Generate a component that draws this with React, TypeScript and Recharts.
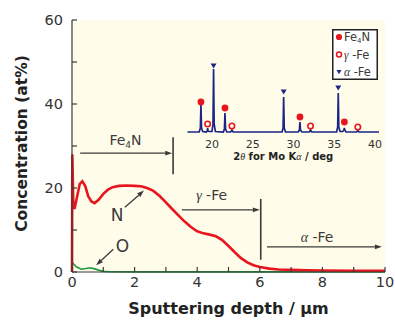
import React from 'react';
import {
  LineChart, Line, XAxis, YAxis, CartesianGrid, ReferenceLine, ReferenceDot,
  ComposedChart, Scatter, Legend,
} from 'recharts';

// depth profile: depth in µm, concentration in at%
const nDepth = [0, 0.01, 0.04, 0.08, 0.15, 0.25, 0.33, 0.42, 0.52, 0.62, 0.72, 0.85, 1.0, 1.15, 1.3, 1.5, 1.75, 2.0, 2.2, 2.4, 2.6, 2.8, 3.0, 3.2, 3.4, 3.6, 3.8, 4.0, 4.2, 4.4, 4.6, 4.8, 5.0, 5.2, 5.4, 5.6, 5.8, 6.0, 6.3, 6.6, 7.0, 7.5, 8.0, 9.0, 10.0];
const nConc = [0, 28, 17, 15, 17.5, 21, 21.6, 20.5, 18, 16.8, 16.4, 17.2, 18.6, 19.6, 20.2, 20.5, 20.6, 20.5, 20.4, 20.0, 19.3, 18.1, 16.6, 15.0, 13.5, 12.0, 10.7, 9.7, 9.2, 8.9, 8.5, 7.6, 6.2, 4.7, 3.3, 2.3, 1.6, 1.2, 0.8, 0.6, 0.5, 0.4, 0.35, 0.3, 0.3];
const oDepth = [0, 0.05, 0.15, 0.3, 0.45, 0.57, 0.7, 0.85, 1.0, 1.2, 2.0, 4.0, 10.0];
const oConc = [2.4, 1.9, 1.2, 0.65, 0.85, 1.0, 0.8, 0.45, 0.15, 0.05, 0.03, 0.03, 0.03];

const depthTicks = [0, 1, 2, 3, 4, 5, 6, 7, 8, 9, 10];
const concTicks = [0, 10, 20, 30, 40, 50, 60];

// XRD inset: 2θ in deg, intensity in arbitrary units
const xrdAngle = [17, 18.43, 18.58, 18.65, 18.72, 18.87, 19.3, 19.42, 19.47, 19.52, 19.65, 20.0, 20.13, 20.2, 20.27, 20.42, 21.4, 21.53, 21.6, 21.67, 21.82, 22.3, 22.45, 22.6, 28.6, 28.73, 28.8, 28.87, 29.02, 30.6, 30.73, 30.8, 30.87, 31.02, 31.95, 32.1, 32.25, 35.3, 35.43, 35.5, 35.57, 35.72, 36.05, 36.2, 36.25, 36.3, 36.45, 37.75, 37.9, 38.05, 40.5];
const xrdCount = [1, 1, 5, 28, 5, 1.5, 1, 2, 5, 2, 1.5, 1.5, 9, 64, 9, 1.5, 1, 4, 20, 4, 1, 1, 3, 1, 1, 5, 36, 5, 1, 1, 3, 11, 3, 1, 1, 3, 1, 1, 6, 40, 6, 1.5, 1.5, 3, 5, 3, 1, 1, 2.5, 1, 1];
const angleTicks = [20, 25, 30, 35, 40];

const fe4nAngle = [18.65, 21.6, 30.8, 36.25];
const fe4nMark = [31, 25, 16, 11];
const gammaAngle = [19.47, 22.45, 32.1, 37.9];
const gammaMark = [9, 7, 7, 6];
const alphaAngle = [20.2, 28.8, 35.5];
const alphaMark = [67, 41, 45];

const phases = ['Fe4N', 'gamma', 'alpha'];

const zip = (xs: number[], ys: number[]) => xs.map((x, i) => ({ x, y: ys[i] }));

const INK = '#3a3a3a';
const RED = '#e8141e';
const GREEN = '#1f9a3c';
const NAVY = '#1c2585';
const CREAM = '#fffdea';
const SANS = '"DejaVu Sans", sans-serif';
const SERIF = '"Liberation Serif", serif';

// where the inset legend frame sits on the page
const LEGEND_BOX = { left: 332, top: 29, width: 46, height: 51 };

const greek = (ch: string) => <tspan fontFamily={SERIF} fontStyle="italic" fontWeight="normal">{ch}</tspan>;

// segment shape, optional arrow head at the end point
const segment = (head: boolean, width = 1.3) => (p: any) => {
  const { x1, y1, x2, y2 } = p;
  const a = Math.atan2(y2 - y1, x2 - x1);
  const bx = x2 - 7 * Math.cos(a);
  const by = y2 - 7 * Math.sin(a);
  const pts = `${x2},${y2} ${bx - 2.4 * Math.sin(a)},${by + 2.4 * Math.cos(a)} ${bx + 2.4 * Math.sin(a)},${by - 2.4 * Math.cos(a)}`;
  return (
    <g>
      <line x1={x1} y1={y1} x2={head ? bx : x2} y2={head ? by : y2} stroke={INK} strokeWidth={width} />
      {head && <polygon points={pts} fill={INK} />}
    </g>
  );
};

const noteText = (content: React.ReactNode, size: number) => (p: any) => (
  <text x={p.viewBox.x} y={p.viewBox.y} textAnchor="middle" fontSize={size} fill={INK} fontFamily={SANS}>
    {content}
  </text>
);

const arrows = [
  { from: [0.26, 28.3], to: [3.2, 28.3], head: true },
  { from: [3.51, 14.8], to: [6.0, 14.8], head: true },
  { from: [6.23, 6.0], to: [9.9, 6.0], head: true },
  { from: [1.69, 15.4], to: [2.3, 19.4], head: true },
  { from: [1.32, 5.4], to: [0.77, 1.6], head: true },
  { from: [3.23, 32.1], to: [3.23, 23.3], head: false },
  { from: [6.03, 17.4], to: [6.03, 2.9], head: false },
];

const notes = [
  { x: 1.71, y: 30.2, size: 14, content: <>Fe<tspan fontSize={9} dy={3}>4</tspan><tspan dy={-3}>N</tspan></> },
  { x: 4.46, y: 17.1, size: 14, content: <>{greek('γ')} -Fe</> },
  { x: 7.83, y: 7.1, size: 14, content: <>{greek('α')} -Fe</> },
  { x: 1.44, y: 12.1, size: 17, content: 'N' },
  { x: 1.61, y: 4.8, size: 17, content: 'O' },
];

const legendMark = (k: string, cy: number) => {
  if (k === 'Fe4N') return <circle cx={7} cy={cy} r={3.1} fill={RED} />;
  if (k === 'gamma') return <circle cx={7} cy={cy} r={2.5} fill="none" stroke={RED} strokeWidth={1.5} />;
  return <polygon points={`4.5,${cy - 2} 9.5,${cy - 2} 7,${cy + 2.2}`} fill={NAVY} />;
};
const legendText = (k: string) => {
  if (k === 'Fe4N') return <>Fe<tspan fontSize={7} dy={2}>4</tspan><tspan dy={-2}>N</tspan></>;
  return <>{greek(k === 'gamma' ? 'γ' : 'α')} -Fe</>;
};

const XrdLegend = () => (
  <svg width={LEGEND_BOX.width} height={LEGEND_BOX.height} style={{ display: 'block', overflow: 'visible' }}>
    <rect x={0.75} y={0.75} width={LEGEND_BOX.width - 1.5} height={LEGEND_BOX.height - 1.5}
      fill="#ffffff" stroke="#222" strokeWidth={1.5} />
    {phases.map((k, i) => {
      const cy = 8 + i * 17.5;
      return (
        <g key={k}>
          {legendMark(k, cy)}
          <text x={12} y={cy + 4.2} fontSize={11.5} fill={INK} fontFamily={SANS}>{legendText(k)}</text>
        </g>
      );
    })}
  </svg>
);

const circleDot = (p: any) => <circle cx={p.cx} cy={p.cy} r={3.4} fill={RED} />;
const ringDot = (p: any) => <circle cx={p.cx} cy={p.cy} r={2.7} fill="none" stroke={RED} strokeWidth={1.6} />;
const triDot = (p: any) => <polygon points={`${p.cx - 3},${p.cy - 2.5} ${p.cx + 3},${p.cy - 2.5} ${p.cx},${p.cy + 2.5}`} fill={NAVY} />;

const tickStyle = { fontSize: 14.5, fill: '#333', fontFamily: SANS };

export default function App() {
  return (
    <div style={{ position: 'absolute', left: 0, top: 0, width: 395, height: 321, background: '#fff' }}>
      <div style={{ position: 'absolute', left: 0, top: 0 }}>
        <LineChart width={395} height={321} margin={{ top: 20, right: 10, bottom: 0, left: 0 }}>
          <CartesianGrid fill={CREAM} horizontal={false} vertical={false} />
          <XAxis
            dataKey="x" type="number" domain={[0, 10]} ticks={depthTicks} height={49}
            stroke={INK} strokeWidth={1.2} tickSize={-5} tickMargin={10} tick={tickStyle}
            tickFormatter={(v: number) => (v % 2 === 0 ? String(v) : '')}
            label={(p: any) => (
              <text x={p.viewBox.x + p.viewBox.width / 2} y={p.viewBox.y + 42} textAnchor="middle"
                fontSize={16} fontWeight="bold" fill="#222" fontFamily={SANS}>
                Sputtering depth / µm
              </text>
            )}
          />
          <XAxis xAxisId="top" orientation="top" type="number" domain={[0, 10]} ticks={depthTicks} height={0}
            stroke={INK} strokeWidth={1.2} tickSize={-5} tickFormatter={() => ''} />
          <YAxis
            type="number" domain={[0, 60]} ticks={concTicks} width={72}
            stroke={INK} strokeWidth={1.2} tickSize={-5} tickMargin={14} tick={tickStyle}
            tickFormatter={(v: number) => (v % 20 === 0 ? String(v) : '')}
            label={(p: any) => {
              const cx = 22;
              const cy = p.viewBox.y + p.viewBox.height / 2 - 2.5;
              return (
                <text x={cx} y={cy} transform={`rotate(-90, ${cx}, ${cy})`} textAnchor="middle" dominantBaseline="central"
                  fontSize={15.5} fontWeight="bold" fill="#222" fontFamily={SANS}>
                  Concentration (at%)
                </text>
              );
            }}
          />
          <YAxis yAxisId="right" orientation="right" type="number" domain={[0, 60]} ticks={concTicks} width={0}
            stroke={INK} strokeWidth={1.2} tickSize={-5} tickFormatter={() => ''} />
          <Line data={zip(oDepth, oConc)} dataKey="y" name="O" stroke={GREEN} strokeWidth={1.6} dot={false} isAnimationActive={false} />
          <Line data={zip(nDepth, nConc)} dataKey="y" name="N" stroke={RED} strokeWidth={2.6} dot={false} isAnimationActive={false} />
          {arrows.map((a, i) => (
            <ReferenceLine key={`a${i}`} segment={[{ x: a.from[0], y: a.from[1] }, { x: a.to[0], y: a.to[1] }]}
              shape={segment(a.head, a.head ? 1.3 : 1.6)} />
          ))}
          {notes.map((n, i) => (
            <ReferenceDot key={`n${i}`} x={n.x} y={n.y} r={0} fill="none" stroke="none" label={noteText(n.content, n.size)} />
          ))}
        </LineChart>
      </div>
      <div style={{ position: 'absolute', left: 0, top: 0, pointerEvents: 'none' }}>
        <ComposedChart width={395} height={321} margin={{ top: 25, right: 16, bottom: 158, left: 187.5 }}>
          <XAxis
            dataKey="x" type="number" domain={[17, 40.5]} ticks={angleTicks} height={30}
            axisLine={false} tickLine={false} tickSize={0} tickMargin={7}
            tick={{ fontSize: 11, fill: '#333', fontFamily: SANS }}
            label={(p: any) => (
              <text x={p.viewBox.x + p.viewBox.width / 2} y={p.viewBox.y + 27} textAnchor="middle"
                fontSize={10} fontWeight="bold" fill="#222" fontFamily={SANS}>
                2{greek('θ')}  for Mo K{greek('α')} / deg
              </text>
            )}
          />
          <YAxis dataKey="y" type="number" domain={[0, 108]} hide />
          <Line data={zip(xrdAngle, xrdCount)} dataKey="y" stroke={NAVY} strokeWidth={1.7} dot={false}
            legendType="none" isAnimationActive={false} />
          <Scatter name="Fe4N" data={zip(fe4nAngle, fe4nMark)} dataKey="y" fill={RED} shape={circleDot} isAnimationActive={false} />
          <Scatter name="gamma" data={zip(gammaAngle, gammaMark)} dataKey="y" fill={RED} shape={ringDot} isAnimationActive={false} />
          <Scatter name="alpha" data={zip(alphaAngle, alphaMark)} dataKey="y" fill={NAVY} shape={triDot} isAnimationActive={false} />
          <Legend layout="vertical" align="center" verticalAlign="middle" content={XrdLegend}
            wrapperStyle={{ position: 'absolute', ...LEGEND_BOX }} />
        </ComposedChart>
      </div>
    </div>
  );
}
